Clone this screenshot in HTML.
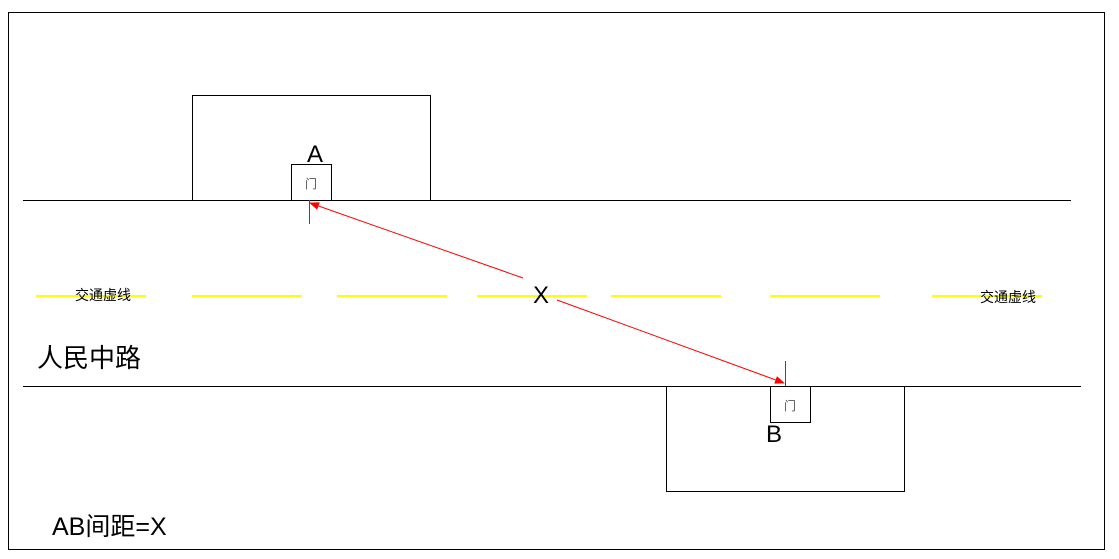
<!DOCTYPE html>
<html><head><meta charset="utf-8"><style>
html,body{margin:0;padding:0;background:#fff;}
svg{display:block;font-family:"Liberation Sans","Noto Sans CJK SC",sans-serif;}
</style></head><body>
<svg width="1119" height="559" viewBox="0 0 1119 559" xmlns="http://www.w3.org/2000/svg">
<defs><marker id="ah" markerWidth="10" markerHeight="8" refX="9" refY="4" orient="auto" markerUnits="userSpaceOnUse"><path d="M0,0 L10,4 L0,8 z" fill="#f00"/></marker></defs>
<rect x="8.5" y="12.5" width="1096" height="537" fill="none" stroke="#000"/>
<rect x="192.5" y="95.5" width="238" height="105" fill="none" stroke="#000"/>
<rect x="666.5" y="386.5" width="238" height="105" fill="none" stroke="#000"/>
<line x1="23" y1="200.5" x2="1071" y2="200.5" stroke="#000"/>
<line x1="23" y1="386.5" x2="1081" y2="386.5" stroke="#000"/>
<rect x="291.5" y="164.5" width="40" height="36" fill="#fff" stroke="#000"/>
<rect x="770.5" y="386.5" width="40" height="36" fill="#fff" stroke="#000"/>
<text x="311" y="188" font-size="12" fill="#555" text-anchor="middle">门</text>
<text x="790" y="410" font-size="12" fill="#555" text-anchor="middle">门</text>
<text x="315" y="162" font-size="24" text-anchor="middle">A</text>
<text x="774" y="442" font-size="24" text-anchor="middle">B</text>
<g stroke="#ff0" stroke-width="2">
<line x1="36" y1="296" x2="146" y2="296"/>
<line x1="192" y1="296" x2="302" y2="296"/>
<line x1="337" y1="296" x2="447" y2="296"/>
<line x1="477" y1="296" x2="587" y2="296"/>
<line x1="611" y1="296" x2="721" y2="296"/>
<line x1="770" y1="296" x2="880" y2="296"/>
<line x1="932" y1="296" x2="1042" y2="296"/>
</g>
<text x="103" y="300" font-size="14" text-anchor="middle">交通虚线</text>
<text x="1008" y="302" font-size="14" text-anchor="middle">交通虚线</text>
<line x1="309.5" y1="200" x2="309.5" y2="224" stroke="#f00"/>
<line x1="785.5" y1="361" x2="785.5" y2="386" stroke="#f00"/>
<line x1="523" y1="278" x2="310" y2="203" stroke="#f00" marker-end="url(#ah)"/>
<line x1="557" y1="300" x2="784" y2="383" stroke="#f00" marker-end="url(#ah)"/>
<text x="541" y="303" font-size="24" text-anchor="middle">X</text>
<text x="37" y="367" font-size="26">人民中路</text>
<text x="52" y="535" font-size="25">AB间距=X</text>
</svg>
</body></html>
